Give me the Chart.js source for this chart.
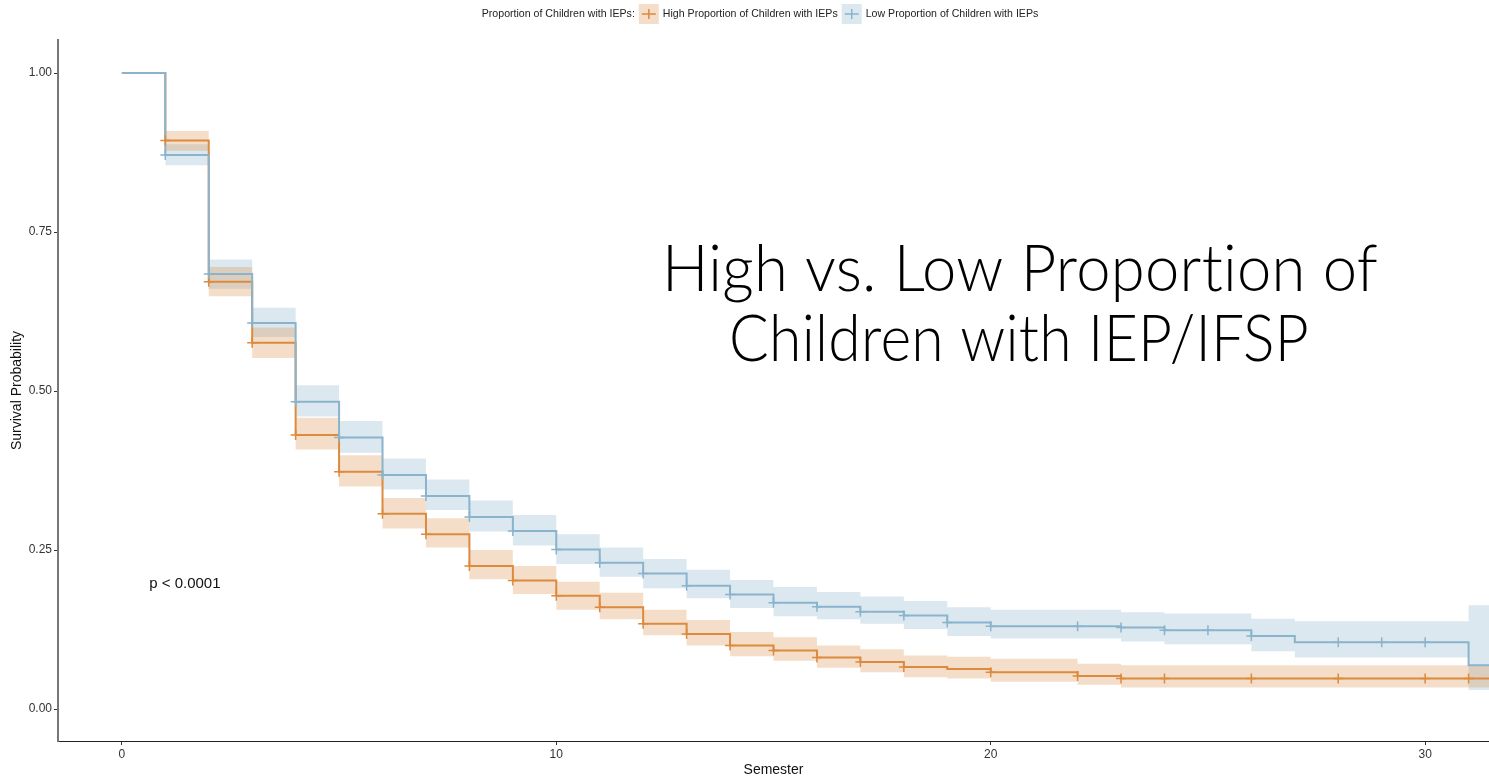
<!DOCTYPE html>
<html>
<head>
<meta charset="utf-8">
<script src="https://cdn.jsdelivr.net/npm/chart.js@4.4.1/dist/chart.umd.min.js"></script>
<style>
  body { margin: 0; background: #fff; }
  canvas { display: block; }
</style>
</head>
<body>
<canvas id="survivalChart" width="1489" height="779"></canvas>
<script>
// Kaplan-Meier estimates (semester, survival, 95% CI)
const highTimes = [0, 1, 2, 3, 4, 5, 6, 7, 8, 9, 10, 11, 12, 13, 14, 15, 16, 17, 18, 19, 20, 22, 23];
const highSurv = [1.0, 0.894, 0.672, 0.576, 0.431, 0.373, 0.307, 0.275, 0.225, 0.202, 0.178, 0.160, 0.134, 0.118, 0.100, 0.092, 0.081, 0.074, 0.066, 0.063, 0.058, 0.052, 0.048];
const highLower = [1.0, 0.878, 0.649, 0.552, 0.408, 0.350, 0.284, 0.254, 0.204, 0.181, 0.156, 0.141, 0.116, 0.100, 0.083, 0.076, 0.065, 0.058, 0.050, 0.048, 0.043, 0.038, 0.034];
const highUpper = [1.0, 0.909, 0.695, 0.600, 0.458, 0.399, 0.332, 0.300, 0.250, 0.225, 0.200, 0.183, 0.156, 0.140, 0.121, 0.113, 0.100, 0.094, 0.084, 0.082, 0.079, 0.071, 0.069];
const highCensor = [1, 2, 3, 4, 5, 6, 7, 8, 9, 10, 11, 12, 13, 14, 15, 16, 17, 18, 20, 22, 23, 24, 26, 28, 30, 31];

const lowTimes = [0, 1, 2, 3, 4, 5, 6, 7, 8, 9, 10, 11, 12, 13, 14, 15, 16, 17, 18, 19, 20, 23, 24, 26, 27, 31];
const lowSurv = [1.0, 0.871, 0.684, 0.607, 0.483, 0.427, 0.368, 0.335, 0.302, 0.280, 0.251, 0.230, 0.213, 0.194, 0.180, 0.167, 0.161, 0.153, 0.147, 0.136, 0.130, 0.128, 0.124, 0.115, 0.105, 0.069];
const lowLower = [1.0, 0.855, 0.661, 0.585, 0.460, 0.403, 0.345, 0.313, 0.279, 0.257, 0.228, 0.208, 0.190, 0.174, 0.159, 0.146, 0.141, 0.134, 0.126, 0.115, 0.111, 0.106, 0.102, 0.091, 0.081, 0.030];
const lowUpper = [1.0, 0.888, 0.707, 0.631, 0.509, 0.453, 0.394, 0.361, 0.328, 0.305, 0.275, 0.254, 0.236, 0.219, 0.203, 0.192, 0.184, 0.177, 0.170, 0.160, 0.156, 0.152, 0.150, 0.142, 0.138, 0.163];
const lowCensor = [1, 2, 3, 4, 5, 6, 7, 8, 9, 10, 11, 12, 13, 14, 15, 16, 17, 18, 19, 20, 22, 23, 24, 25, 26, 28, 29, 30];

const xTicks = [0, 10, 20, 30];
const yTicks = [0, 0.25, 0.5, 0.75, 1.0];

const X_MIN = -1.47, X_MAX = 31.47;
const HIGH_COLOR = "#DC8A3D", LOW_COLOR = "#8AB3CC";
const HIGH_FILL = "rgba(220, 138, 61, 0.28)", LOW_FILL = "rgba(138, 179, 204, 0.30)";

const stepPoints = (times, values) => {
  const pts = times.map((t, i) => ({ x: t, y: values[i] }));
  pts.push({ x: X_MAX, y: values[values.length - 1] });
  return pts;
};

const valueAt = (times, values, t) => {
  let v = values[0];
  times.forEach((tt, i) => { if (tt <= t) v = values[i]; });
  return v;
};

const censorPoints = (censor, times, values) => censor.map(t => ({ x: t, y: valueAt(times, values, t) }));

const bandSets = (times, lower, upper, fill) => ([
  {
    data: stepPoints(times.slice(1), upper.slice(1)),
    stepped: true, borderWidth: 0, pointRadius: 0, fill: false, order: 5
  },
  {
    data: stepPoints(times.slice(1), lower.slice(1)),
    stepped: true, borderWidth: 0, pointRadius: 0, fill: "-1", backgroundColor: fill, order: 5
  }
]);

const legendPlugin = {
  id: "kmLegend",
  afterDraw(chart) {
    const ctx = chart.ctx;
    ctx.save();
    ctx.font = "10.6px 'Liberation Sans', Arial, sans-serif";
    ctx.textBaseline = "middle";
    ctx.fillStyle = "#222";
    const title = "Proportion of Children with IEPs:";
    const items = [
      { label: "High Proportion of Children with IEPs", color: HIGH_COLOR, fill: HIGH_FILL },
      { label: "Low Proportion of Children with IEPs", color: LOW_COLOR, fill: LOW_FILL }
    ];
    const box = 20, gap = 4;
    let total = ctx.measureText(title).width;
    items.forEach(it => { total += gap + box + gap + ctx.measureText(it.label).width; });
    let x = 760 - total / 2;
    const cy = 14;
    ctx.fillText(title, x, cy);
    x += ctx.measureText(title).width + gap;
    items.forEach(it => {
      ctx.fillStyle = it.fill;
      ctx.fillRect(x, cy - box / 2, box, box);
      ctx.strokeStyle = it.color;
      ctx.lineWidth = 1.5;
      ctx.beginPath();
      ctx.moveTo(x + 3, cy); ctx.lineTo(x + box - 3, cy);
      ctx.moveTo(x + box / 2, cy - 5); ctx.lineTo(x + box / 2, cy + 5);
      ctx.stroke();
      x += box + gap;
      ctx.fillStyle = "#222";
      ctx.fillText(it.label, x, cy);
      x += ctx.measureText(it.label).width + gap;
    });

    // p-value
    const xs = chart.scales.x, ys = chart.scales.y;
    ctx.font = "15px 'Liberation Sans', Arial, sans-serif";
    ctx.fillStyle = "#111";
    ctx.textAlign = "left";
    ctx.fillText("p < 0.0001", xs.getPixelForValue(0.63), ys.getPixelForValue(0.197));

    // overlaid slide title
    ctx.font = "300 66px Lato, 'Open Sans', sans-serif";
    ctx.letterSpacing = "0.3px";
    ctx.fillStyle = "#000";
    ctx.textAlign = "center";
    ctx.textBaseline = "alphabetic";
    ctx.fillText("High vs. Low Proportion of", 1020, 291, 716);
    ctx.fillText("Children with IEP/IFSP", 1019, 361, 580);
    ctx.restore();
  }
};

const ctx = document.getElementById("survivalChart");
const chart = new Chart(ctx, {
  type: "line",
  data: {
    datasets: [
      ...bandSets(highTimes, highLower, highUpper, HIGH_FILL),
      ...bandSets(lowTimes, lowLower, lowUpper, LOW_FILL),
      {
        label: "High Proportion of Children with IEPs",
        data: stepPoints(highTimes, highSurv),
        stepped: true, borderColor: HIGH_COLOR, borderWidth: 2, pointRadius: 0, fill: false, order: 3
      },
      {
        label: "Low Proportion of Children with IEPs",
        data: stepPoints(lowTimes, lowSurv),
        stepped: true, borderColor: LOW_COLOR, borderWidth: 2, pointRadius: 0, fill: false, order: 2
      },
      {
        data: censorPoints(highCensor, highTimes, highSurv),
        showLine: false, pointStyle: "cross", pointRadius: 5, pointBorderWidth: 1.5,
        borderColor: HIGH_COLOR, order: 1
      },
      {
        data: censorPoints(lowCensor, lowTimes, lowSurv),
        showLine: false, pointStyle: "cross", pointRadius: 5, pointBorderWidth: 1.5,
        borderColor: LOW_COLOR, order: 0
      }
    ]
  },
  options: {
    responsive: false,
    animation: false,
    layout: { autoPadding: false, padding: { top: 40, right: 0, bottom: 0, left: 0 } },
    plugins: { legend: { display: false }, tooltip: { enabled: false } },
    scales: {
      x: {
        type: "linear",
        min: X_MIN, max: X_MAX,
        afterBuildTicks: axis => { axis.ticks = xTicks.map(v => ({ value: v })); },
        afterFit: axis => { axis.height = 38; axis.paddingLeft = 0; axis.paddingRight = 0; },
        ticks: { color: "#333", font: { size: 12, family: "'Liberation Sans', Arial" }, padding: 2, maxRotation: 0 },
        grid: { drawOnChartArea: false, tickLength: 4, color: "#333" },
        border: { color: "#222", width: 1 },
        title: { display: true, text: "Semester", color: "#111", font: { size: 14, family: "'Liberation Sans', Arial" }, padding: { top: 0, bottom: 0 } }
      },
      y: {
        min: -0.0503, max: 1.052,
        afterBuildTicks: axis => { axis.ticks = yTicks.map(v => ({ value: v })); },
        afterFit: axis => { axis.width = 58; },
        ticks: { color: "#333", font: { size: 12, family: "'Liberation Sans', Arial" }, padding: 2, callback: v => v.toFixed(2) },
        grid: { drawOnChartArea: false, tickLength: 4, color: "#333" },
        border: { color: "#777", width: 2 },
        title: { display: true, text: "Survival Probability", color: "#111", font: { size: 14, family: "'Liberation Sans', Arial" }, padding: { top: 9, bottom: 0 } }
      }
    }
  },
  plugins: [legendPlugin]
});
</script>
</body>
</html>
